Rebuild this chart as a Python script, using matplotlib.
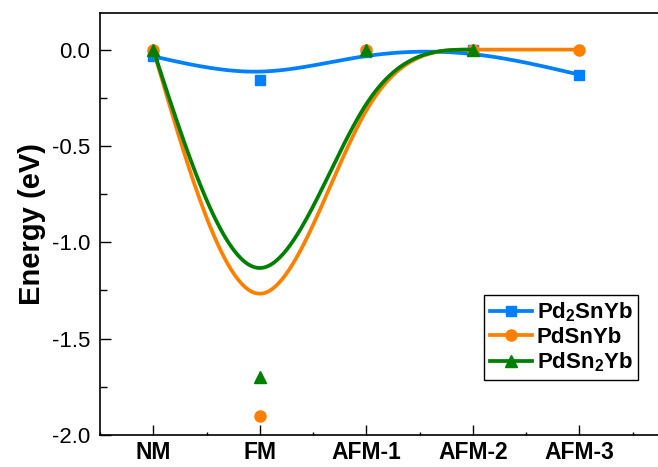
import numpy as np
import matplotlib
matplotlib.use("Agg")
import matplotlib.pyplot as plt
from matplotlib.lines import Line2D
from matplotlib.ticker import MultipleLocator

plt.rcParams["font.family"] = ["Liberation Sans", "DejaVu Sans"]
plt.rcParams["mathtext.fontset"] = "custom"
plt.rcParams["mathtext.bf"] = "Liberation Sans:bold"
plt.rcParams["mathtext.rm"] = "Liberation Sans:bold"

# ---- data ----
configs = ["NM", "FM", "AFM-1", "AFM-2", "AFM-3"]
pd2snyb = [-0.035, -0.16, -0.01, 0.0, -0.13]
pdsnyb = [0.0, -1.9, 0.0, 0.0, 0.0]
pdsn2yb = [0.0, -1.7, 0.0, 0.0]          # no AFM-3 point

labels = [r"Pd$_\mathbf{2}$SnYb", "PdSnYb", r"PdSn$_\mathbf{2}$Yb"]
colors = ["#0080ff", "#ff8000", "#008000"]
markers = ["s", "o", "^"]
msizes = [6.5, 8, 8]


def bspline(y, n_seg=60):
    """uniform cubic B-spline, data as control points, ends pinned (Origin-style)"""
    p = np.asarray(y, float)
    x = np.arange(len(p), dtype=float)
    px = np.r_[2 * x[0] - x[1], x, 2 * x[-1] - x[-2]]
    py = np.r_[2 * p[0] - p[1], p, 2 * p[-1] - p[-2]]
    t = np.linspace(0, 1, n_seg)
    b = np.array([(1 - t) ** 3, 3 * t ** 3 - 6 * t ** 2 + 4,
                  -3 * t ** 3 + 3 * t ** 2 + 3 * t + 1, t ** 3]) / 6
    xs, ys = [], []
    for i in range(len(p) - 1):
        xs.append(b.T @ px[i:i + 4])
        ys.append(b.T @ py[i:i + 4])
    return np.concatenate(xs), np.concatenate(ys)


fig = plt.figure(figsize=(6.58, 4.67), dpi=100)
ax = fig.add_axes([100 / 658, 32 / 467, 590 / 658, 422 / 467])

for vals, c, m, ms in zip([pd2snyb, pdsnyb, pdsn2yb], colors, markers, msizes):
    cx, cy = bspline(vals)
    ax.plot(cx, cy, color=c, lw=2.7, solid_capstyle="round")
    ax.plot(range(len(vals)), vals, ls="none", marker=m, ms=ms, color=c, mec=c)

ax.set_xlim(-0.5, -0.5 + 590 / 106.5)
ax.set_ylim(-2.0, 0.19)
ax.set_xticks(range(len(configs)))
ax.set_xticklabels(configs, fontsize=16.5, fontweight="bold")
ax.xaxis.set_minor_locator(MultipleLocator(0.5))
ax.yaxis.set_major_locator(MultipleLocator(0.5))
ax.yaxis.set_minor_locator(MultipleLocator(0.25))
ax.set_yticklabels([f"{v:.1f}" for v in ax.get_yticks()], fontsize=16)
ax.tick_params(axis="y", which="major", direction="in", length=8, width=1, pad=7)
ax.tick_params(axis="y", which="minor", direction="in", length=5, width=1)
ax.tick_params(axis="x", which="major", direction="in", length=7, width=1, pad=4)
ax.tick_params(axis="x", which="minor", direction="in", length=2, width=1)
ax.set_ylabel("Energy (eV)", fontsize=21, fontweight="bold", labelpad=4)
ax.spines["right"].set_visible(False)
for s in ["left", "top", "bottom"]:
    ax.spines[s].set_linewidth(1.2)

handles = [Line2D([], [], color=c, lw=2.7, marker=m, ms=ms, mec=c)
           for c, m, ms in zip(colors, markers, msizes)]
leg = ax.legend(handles, labels, loc="upper right",
                bbox_to_anchor=(638 / 658, 1 - 295 / 467), bbox_transform=fig.transFigure,
                prop={"weight": "bold", "size": 16}, fancybox=False, edgecolor="black",
                handlelength=1.9, handletextpad=0.2, labelspacing=0.12, borderpad=0.25,
                borderaxespad=0, framealpha=1)
leg.get_frame().set_linewidth(1.0)

fig.savefig("out.png", dpi=100)
